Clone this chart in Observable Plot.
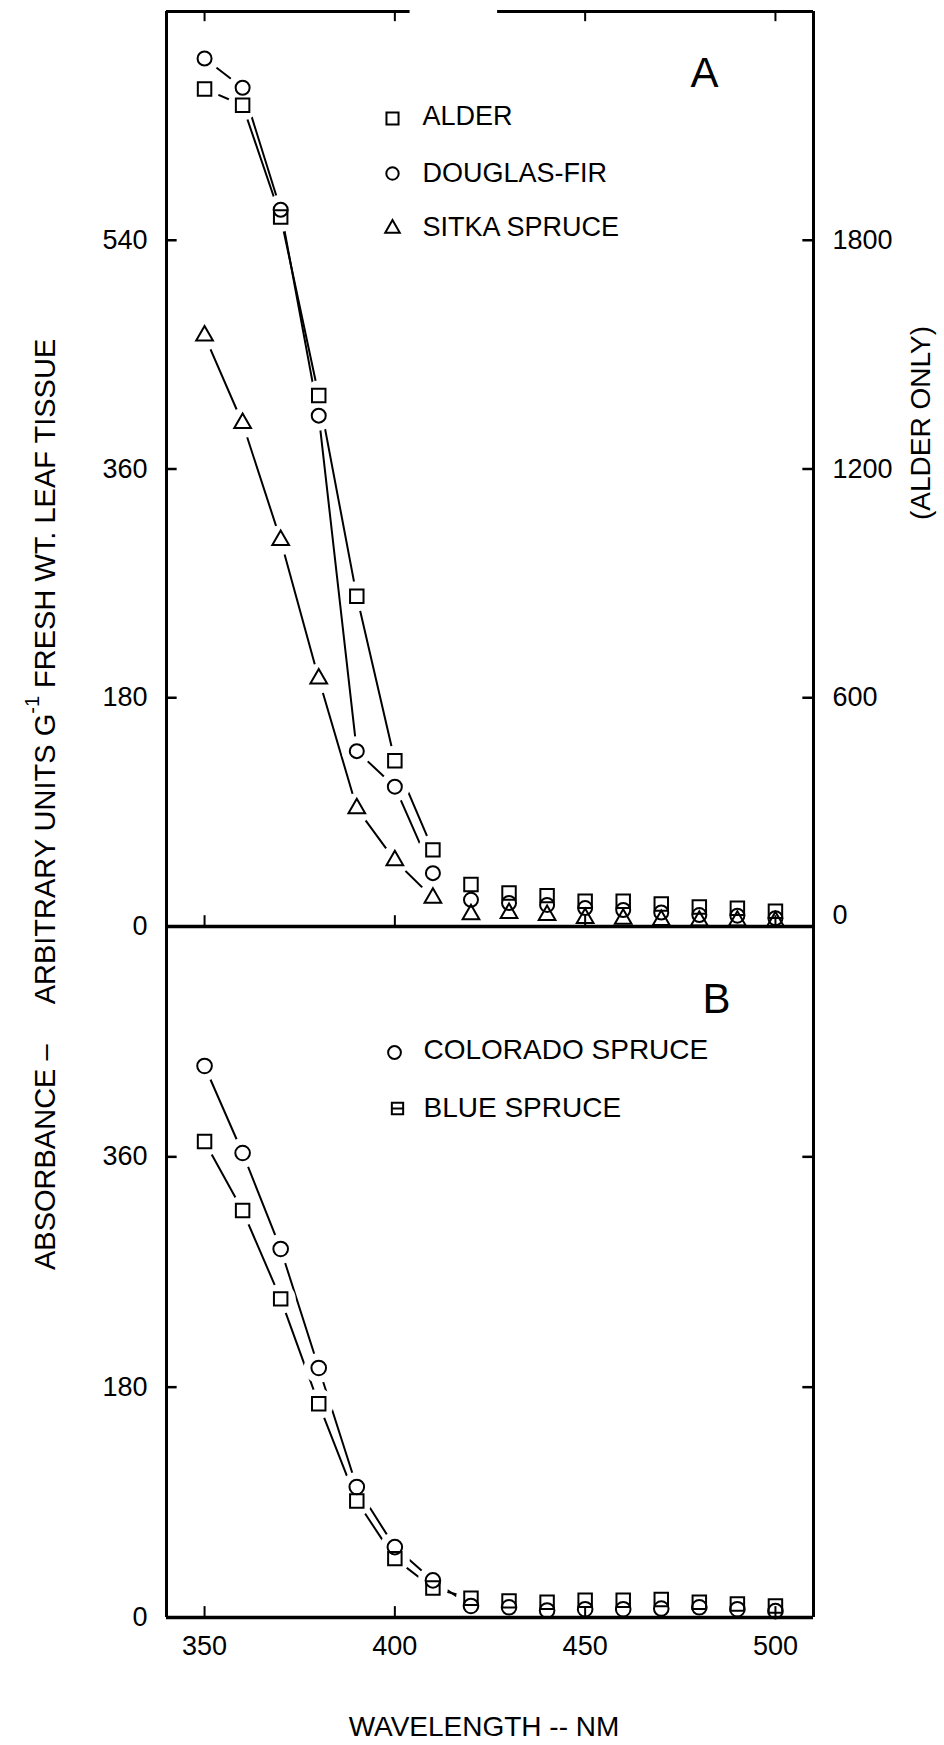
<!DOCTYPE html>
<html><head><meta charset="utf-8">
<script src="https://cdn.jsdelivr.net/npm/d3@7"></script>
<script src="https://cdn.jsdelivr.net/npm/@observablehq/plot@0.6"></script>
<style>
html,body{margin:0;padding:0;background:#fff;}
#chart{position:relative;width:944px;height:1745px;overflow:hidden;background:#fff;}
#chart svg{position:absolute;left:0;overflow:visible;}
</style></head><body><div id="chart"></div>
<script>
// ---- data ----
const wavelengths = [350,360,370,380,390,400,410,420,430,440,450,460,470,480,490,500];
// Panel A (alder on right-hand axis units)
const alder       = [2197,2154,1861,1393,866,435,201,110,88,81,66,66,59,51,48,40];
const douglasFir  = [683,660,564,402,138,110,42,21,18.5,17,14.5,13,11,9,8.5,6.5];
const sitkaSpruce = [465,396,304,195,93,52,22.5,9.5,10.5,9,6.5,6,5,4.5,4.5,4];
// Panel B
const coloradoSpruce = [431,363,288,195,102,55,29,9,8,5.5,6.5,6.5,7,8,6.5,5];
const blueSpruce     = [372,318,249,167,91,46,23,15,13,12,13.5,13.5,14,12,10.5,9];
// ticks
const xTicks  = [350,400,450,500];
const yTicksA = [0,180,360,540];
const yTicksB = [0,180,360];
const alderFactor = 10/3;   // right axis = left axis * 10/3

const FONT = "'Liberation Sans', Arial, sans-serif";
const rows = (vals, k = 1) => wavelengths.map((w, i) => ({w, v: vals[i] * k}));

const alderRows = rows(alder, 1 / alderFactor);
const dfRows = rows(douglasFir);
const sitkaRows = rows(sitkaSpruce);
const coRows = rows(coloradoSpruce);
const blRows = rows(blueSpruce);

const lineA = r => r.filter(d => d.w <= 410);
const lineB = r => r.filter(d => d.w <= 420);

const squareBar = {
  draw(ctx, size) {
    const r = Math.sqrt(size) * 0.4431;
    ctx.moveTo(-r, -r); ctx.lineTo(r, -r); ctx.lineTo(r, r); ctx.lineTo(-r, r); ctx.closePath();
    ctx.moveTo(-r, 0); ctx.lineTo(r, 0);
  }
};

const ink = {stroke: "black", fill: "none", strokeWidth: 2};
const xd = [340, 510];
const ML = 166, MR = 131;
const HALO = 15;

// ---------- Panel A ----------
const chartA = Plot.plot({
  width: 944, height: 940,
  marginTop: 11, marginBottom: 14, marginLeft: ML, marginRight: MR,
  x: {domain: xd, axis: null},
  y: {domain: [0, 720], axis: null},
  style: {fontFamily: FONT, fontSize: "27px", color: "black", background: "transparent"},
  marks: [
    Plot.line(lineA(alderRows), {x: "w", y: "v", stroke: "black", strokeWidth: 2}),
    Plot.line(lineA(dfRows), {x: "w", y: "v", stroke: "black", strokeWidth: 2}),
    Plot.line(lineA(sitkaRows), {x: "w", y: "v", stroke: "black", strokeWidth: 2}),
    Plot.dot([...lineA(alderRows), ...lineA(dfRows), ...lineA(sitkaRows)], {x: "w", y: "v", r: HALO, fill: "white", stroke: "none"}),
    Plot.dot(alderRows, {x: "w", y: "v", symbol: "square", r: 7.6, ...ink}),
    Plot.dot(dfRows, {x: "w", y: "v", symbol: "circle", r: 7, ...ink}),
    Plot.dot(sitkaRows, {x: "w", y: "v", symbol: "triangle", r: 6.2, ...ink}),
    // frame
    Plot.ruleX(xd, {strokeWidth: 3}),
    Plot.ruleY([0], {strokeWidth: 3.5}),
    Plot.ruleY([720], {x1: () => 340, x2: () => 404, strokeWidth: 3}),
    Plot.ruleY([720], {x1: () => 427, x2: () => 510, strokeWidth: 3}),
    // inward ticks
    Plot.ruleY(yTicksA.filter(t => t > 0), {x1: () => 340, x2: () => 342.8, strokeWidth: 2.5}),
    Plot.ruleY(yTicksA.filter(t => t > 0), {x1: () => 507.2, x2: () => 510, strokeWidth: 2.5}),
    Plot.ruleX(xTicks, {y1: () => 720, y2: () => 712, strokeWidth: 2}),
    Plot.ruleX(xTicks, {y1: () => 0, y2: () => 8.5, strokeWidth: 2}),
    // axes labels
    Plot.axisY(yTicksA, {anchor: "left", tickSize: 0, tickPadding: 19, fontSize: 27, label: null}),
    Plot.axisY(yTicksA.filter(t => t > 0), {anchor: "right", tickSize: 0, tickPadding: 19, fontSize: 27, label: null,
      tickFormat: d => String(Math.round(d * alderFactor))}),
    Plot.axisY([0], {anchor: "right", tickSize: 0, tickPadding: 19, dy: -11, fontSize: 27, label: null,
      tickFormat: d => String(Math.round(d * alderFactor))}),
    // legend
    Plot.dot([0], {frameAnchor: "top-left", dx: 226, dy: 107, symbol: "square", r: 6.8, ...ink}),
    Plot.dot([0], {frameAnchor: "top-left", dx: 226, dy: 162, symbol: "circle", r: 6.2, ...ink}),
    Plot.dot([0], {frameAnchor: "top-left", dx: 226, dy: 217, symbol: "triangle", r: 5.4, ...ink}),
    Plot.text(["ALDER"], {text: d => d, frameAnchor: "top-left", dx: 256, dy: 105, textAnchor: "start", lineAnchor: "middle", fontSize: 27}),
    Plot.text(["DOUGLAS-FIR"], {text: d => d, frameAnchor: "top-left", dx: 256, dy: 162, textAnchor: "start", lineAnchor: "middle", fontSize: 27}),
    Plot.text(["SITKA SPRUCE"], {text: d => d, frameAnchor: "top-left", dx: 256, dy: 216, textAnchor: "start", lineAnchor: "middle", fontSize: 27}),
    Plot.text(["A"], {text: d => d, frameAnchor: "top-left", dx: 538, dy: 62, textAnchor: "middle", lineAnchor: "middle", fontSize: 42})
  ]
});

// ---------- Panel B ----------
const chartB = Plot.plot({
  width: 944, height: 845,
  marginTop: 26, marginBottom: 128, marginLeft: ML, marginRight: MR,
  x: {domain: xd, axis: null},
  y: {domain: [0, 540], axis: null},
  style: {fontFamily: FONT, fontSize: "27px", color: "black", background: "transparent"},
  marks: [
    Plot.line(lineB(coRows), {x: "w", y: "v", stroke: "black", strokeWidth: 2}),
    Plot.line(lineB(blRows), {x: "w", y: "v", stroke: "black", strokeWidth: 2}),
    Plot.dot([...lineB(coRows), ...lineB(blRows)], {x: "w", y: "v", r: HALO, fill: "white", stroke: "none"}),
    Plot.dot(coRows, {x: "w", y: "v", symbol: "circle", r: 7.3, ...ink}),
    Plot.dot(blRows, {x: "w", y: "v", symbol: "square", r: 7.6, ...ink}),
    // frame
    Plot.ruleX(xd, {strokeWidth: 3}),
    Plot.ruleY([0], {strokeWidth: 3.5}),
    // inward ticks
    Plot.ruleY(yTicksB.filter(t => t > 0), {x1: () => 340, x2: () => 342.8, strokeWidth: 2.5}),
    Plot.ruleY(yTicksB.filter(t => t > 0), {x1: () => 507.2, x2: () => 510, strokeWidth: 2.5}),
    Plot.ruleX(xTicks, {y1: () => 0, y2: () => 8.5, strokeWidth: 2}),
    // axes labels
    Plot.axisY(yTicksB, {anchor: "left", tickSize: 0, tickPadding: 19, fontSize: 27, label: null}),
    Plot.axisX(xTicks, {anchor: "bottom", tickSize: 0, tickPadding: 18, fontSize: 27, label: null}),
    Plot.text(["WAVELENGTH -- NM"], {text: d => d, frameAnchor: "bottom", dx: -6, dy: 110, lineAnchor: "middle", fontSize: 28}),
    // legend
    Plot.dot([0], {frameAnchor: "top-left", dx: 228, dy: 126, symbol: "circle", r: 6.4, ...ink}),
    Plot.dot([0], {frameAnchor: "top-left", dx: 231, dy: 182, symbol: squareBar, r: 7.2, ...ink}),
    Plot.text(["COLORADO SPRUCE"], {text: d => d, frameAnchor: "top-left", dx: 257, dy: 124, textAnchor: "start", lineAnchor: "middle", fontSize: 28}),
    Plot.text(["BLUE SPRUCE"], {text: d => d, frameAnchor: "top-left", dx: 257, dy: 182, textAnchor: "start", lineAnchor: "middle", fontSize: 28}),
    Plot.text(["B"], {text: d => d, frameAnchor: "top-left", dx: 550, dy: 73, textAnchor: "middle", lineAnchor: "middle", fontSize: 42})
  ]
});

const root = document.getElementById("chart");
chartA.style.top = "0px";
chartB.style.top = "900px";
root.appendChild(chartA);
root.appendChild(chartB);

// ---------- axis titles ----------
const ov = d3.select(root).append("svg")
  .attr("width", 944).attr("height", 1745).style("top", "0px")
  .attr("font-family", FONT).style("white-space", "pre");
const t = ov.append("text")
  .attr("transform", "translate(55,1270) rotate(-90)")
  .attr("font-size", 29).attr("text-anchor", "start");
t.append("tspan").text("ABSORBANCE –");
t.append("tspan").attr("dx", 40).text("ARBITRARY UNITS G");
t.append("tspan").attr("dy", -16).attr("font-size", 20).text("-1");
t.append("tspan").attr("dy", 16).text(" FRESH WT. LEAF TISSUE");

ov.append("text")
  .attr("transform", "translate(930,423) rotate(-90)")
  .attr("font-size", 28).attr("text-anchor", "middle")
  .text("(ALDER ONLY)");
</script>
</body></html>
